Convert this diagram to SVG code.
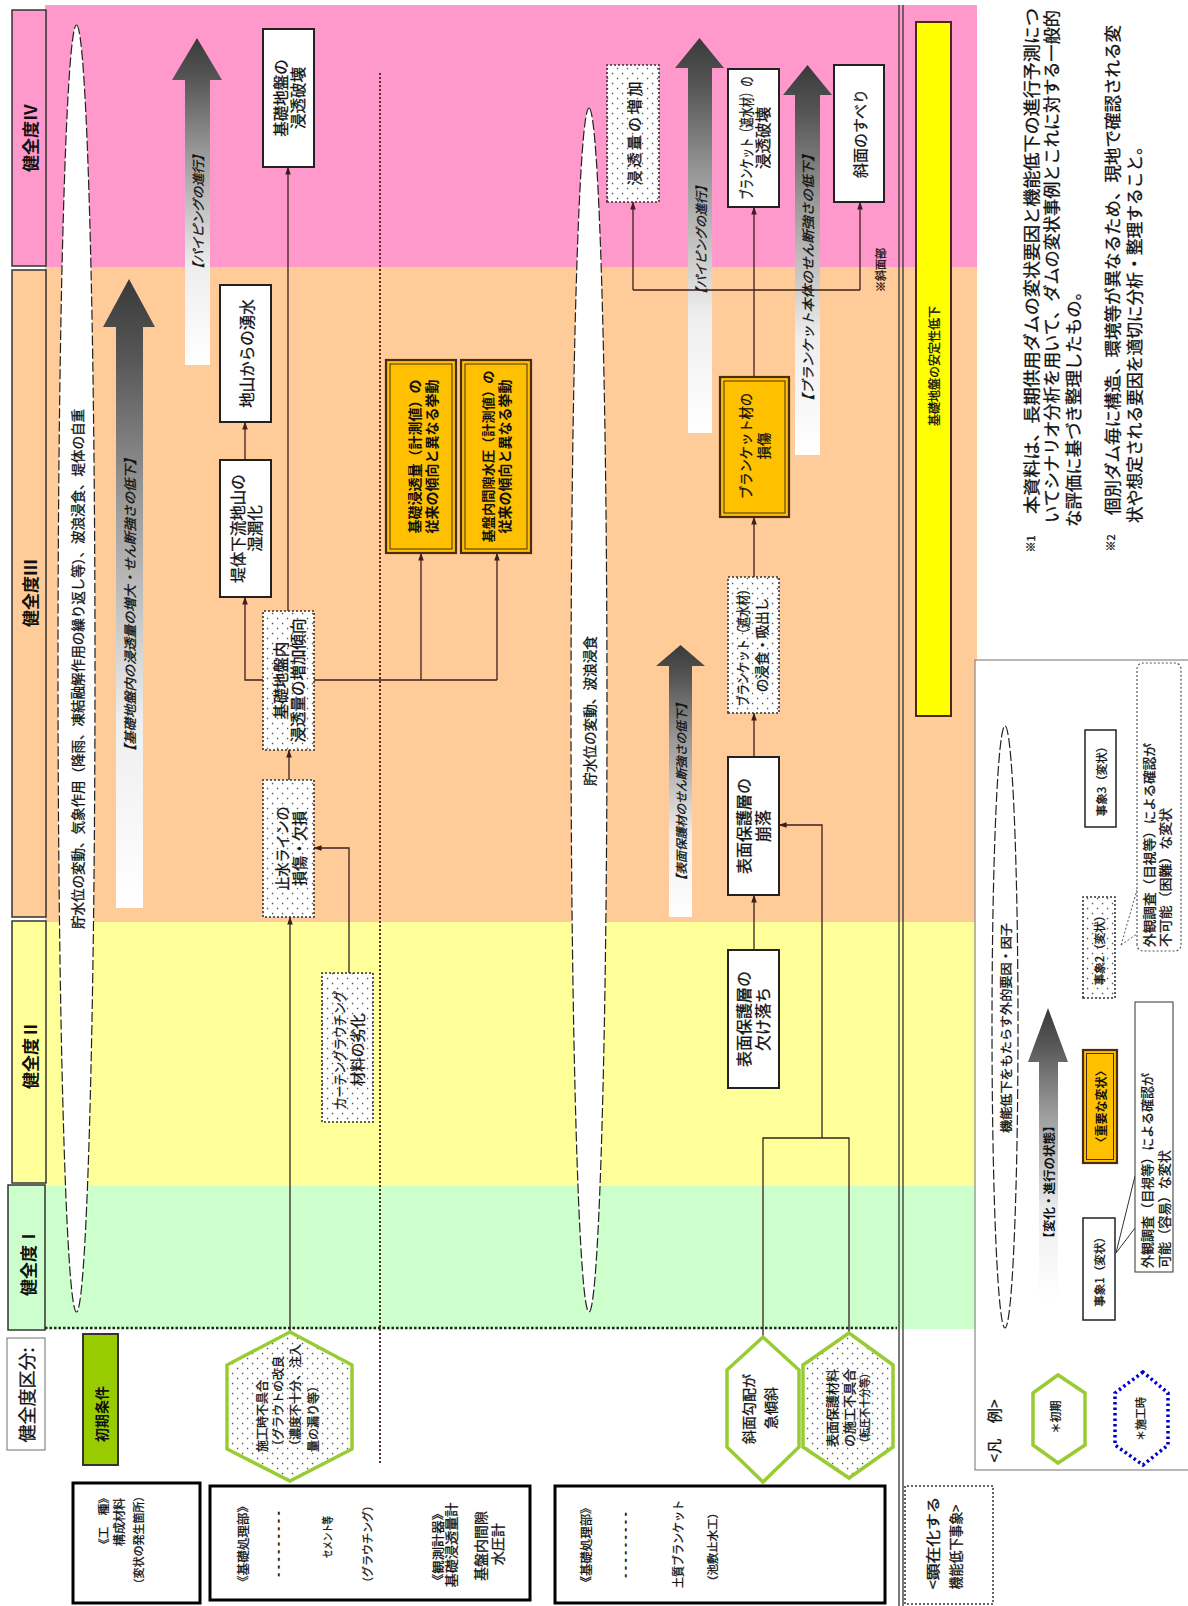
<svg xmlns="http://www.w3.org/2000/svg" width="1188" height="1606" viewBox="0 0 1188 1606">
<defs>
<style>
.t{font-family:"Noto Sans CJK JP","Noto Sans CJK SC",sans-serif;text-anchor:middle;dominant-baseline:central;fill:#111;stroke:#111;stroke-width:0.3}
.ts{text-anchor:start}
.b{font-weight:bold;stroke-width:0}
.i{font-style:italic}
.box{fill:#fff;stroke:#222;stroke-width:2}
.dbox{fill:url(#dots);stroke:#333;stroke-width:1.6;stroke-dasharray:2 2}
.obox{fill:#ffc000;stroke:#4a2c10;stroke-width:2.2}
.oin{fill:none;stroke:#4a2c10;stroke-width:1}
.conn{fill:none;stroke:#3d1f1f;stroke-width:1.3}
.arw{marker-end:url(#ah)}
.ell{fill:#fff;stroke:#222;stroke-width:1.2;stroke-dasharray:10 3}
.hexg{stroke:#99cc33;stroke-width:3.5}
.big{fill:url(#gArr)}
.frame{fill:#fff;stroke:#000;stroke-width:3}
</style>
<pattern id="dots" width="10" height="10" patternUnits="userSpaceOnUse">
<rect width="10" height="10" fill="#fff"/>
<circle cx="2.5" cy="2.5" r="0.85" fill="#555"/>
<circle cx="7.5" cy="7.5" r="0.85" fill="#555"/>
</pattern>
<linearGradient id="gArr" x1="0" y1="0" x2="1" y2="0">
<stop offset="0" stop-color="#ffffff"/>
<stop offset="0.3" stop-color="#eeeeee"/>
<stop offset="0.65" stop-color="#999999"/>
<stop offset="0.88" stop-color="#555555"/>
<stop offset="1" stop-color="#3a3a3a"/>
</linearGradient>
<marker id="ah" viewBox="0 0 10 10" refX="9.5" refY="5" markerUnits="userSpaceOnUse" markerWidth="8" markerHeight="8" orient="auto">
<path d="M0,1.5 L10,5 L0,8.5 Z" fill="#3d1f1f"/>
</marker>
</defs>
<rect width="1188" height="1606" fill="#fff"/>

<!-- the whole sheet is laid out landscape and turned a quarter turn -->
<g transform="translate(0,1606) rotate(-90)">

<!-- condition bands -->
<g id="bands">
<rect x="1339" y="45" width="262" height="932" fill="#ff99cc"/>
<rect x="684" y="45" width="655" height="932" fill="#ffcc99"/>
<rect x="420" y="45" width="264" height="932" fill="#ffff99"/>
<rect x="277" y="45" width="143" height="932" fill="#ccffcc"/>
</g>

<!-- grade labels -->
<g id="grade-4"><rect x="1340" y="12" width="256" height="34" fill="#ff99cc" stroke="#333" stroke-width="1.5"/><text class="t b" x="1468" y="29" font-size="17">健全度Ⅳ</text></g>
<g id="grade-3"><rect x="689" y="12" width="647" height="34" fill="#ffcc99" stroke="#333" stroke-width="1.5"/><text class="t b" x="1013" y="29" font-size="17">健全度Ⅲ</text></g>
<g id="grade-2"><rect x="423" y="12" width="262" height="34" fill="#ffff99" stroke="#333" stroke-width="1.5"/><text class="t b" x="551" y="29" font-size="17">健全度Ⅱ</text></g>
<g id="grade-1"><rect x="276" y="8" width="145" height="37" fill="#ccffcc" stroke="#333" stroke-width="1.5"/><text class="t b" x="344" y="27" font-size="17">健全度Ⅰ</text></g>
<g id="grade-title"><rect x="156" y="7" width="112" height="38" fill="#fff" stroke="#888" stroke-width="1.2"/><text class="t" x="211" y="26" font-size="18">健全度区分:</text></g>
<g id="initial-title"><rect x="141" y="83" width="131" height="35" fill="#99cc00" stroke="#333" stroke-width="2"/><text class="t b" x="192" y="100.5" font-size="14">初期条件</text></g>

<!-- guide lines -->
<g id="guides">
<line x1="278" y1="45" x2="278" y2="897" stroke="#222" stroke-width="2.5" stroke-dasharray="2.5 2"/>
<line x1="143" y1="380" x2="1533" y2="380" stroke="#5a2a2a" stroke-width="2" stroke-dasharray="2 2"/>
<line x1="0" y1="899" x2="1601" y2="899" stroke="#333" stroke-width="1.3"/>
<line x1="0" y1="903" x2="1601" y2="903" stroke="#333" stroke-width="1.3"/>
</g>

<!-- stability bar -->
<g id="stability">
<rect x="890" y="916" width="694" height="35" fill="#ffff00" stroke="#4a2a10" stroke-width="2"/>
<text class="t" x="1240" y="933.5" font-size="12">基礎地盤の安定性低下</text>
</g>

<!-- external factors -->
<g id="factor-1">
<ellipse cx="937.5" cy="76.5" rx="643.5" ry="18.5" class="ell"/>
<text class="t" x="937" y="76.5" font-size="13.5" textLength="520" lengthAdjust="spacingAndGlyphs">貯水位の変動、気象作用（降雨、凍結融解作用の繰り返し等）、波浪浸食、堤体の自重</text>
</g>
<g id="factor-2">
<ellipse cx="896" cy="589" rx="602" ry="18" class="ell"/>
<text class="t" x="895" y="589" font-size="13.5" textLength="150" lengthAdjust="spacingAndGlyphs">貯水位の変動、波浪浸食</text>
</g>

<!-- progression arrows -->
<g id="prog-piping-1">
<path class="big" d="M1241,185 L1526,185 L1526,172 L1568,197 L1526,222 L1526,210 L1241,210 Z"/>
<text class="t i" x="1394" y="197" font-size="12.5" textLength="127" lengthAdjust="spacingAndGlyphs">【パイピングの進行】</text>
</g>
<g id="prog-seepage">
<path class="big" d="M698,116 L1279,116 L1279,103 L1327,129 L1279,155 L1279,143 L698,143 Z"/>
<text class="t i" x="1001" y="129.5" font-size="13" textLength="306" lengthAdjust="spacingAndGlyphs">【基礎地盤内の浸透量の増大・せん断強さの低下】</text>
</g>
<g id="prog-piping-2">
<path class="big" d="M1173,688 L1538,688 L1538,675 L1568,699.5 L1538,724 L1538,712 L1173,712 Z"/>
<text class="t i" x="1366" y="700" font-size="12.5" textLength="120" lengthAdjust="spacingAndGlyphs">【パイピングの進行】</text>
</g>
<g id="prog-blanket">
<path class="big" d="M1151,795 L1511,795 L1511,783 L1541,807.5 L1511,832 L1511,820 L1151,820 Z"/>
<text class="t i" x="1328" y="807.5" font-size="13" textLength="260" lengthAdjust="spacingAndGlyphs">【ブランケット本体のせん断強さの低下】</text>
</g>
<g id="prog-surface">
<path class="big" d="M689,669 L940,669 L940,656 L961,680.5 L940,705 L940,692 L689,692 Z"/>
<text class="t i" x="814" y="680.5" font-size="12" textLength="189" lengthAdjust="spacingAndGlyphs">【表面保護材のせん断強さの低下】</text>
</g>

<!-- connectors -->
<g id="connectors">
<path class="conn arw" d="M995,288 L1439,288"/>
<path class="conn arw" d="M926,263 L926,245 L1009,245"/>
<path class="conn arw" d="M1146,245 L1184,245"/>
<path class="conn" d="M926,314 L926,497"/>
<path class="conn arw" d="M926,421 L1053,421"/>
<path class="conn arw" d="M926,497 L1053,497"/>
<path class="conn arw" d="M826,289 L856,289"/>
<path class="conn arw" d="M274,290 L689,290"/>
<path class="conn arw" d="M633,349 L758,349 L758,314"/>
<path class="conn arw" d="M1229,754 L1399,754"/>
<path class="conn" d="M1316,633 L1316,860"/>
<path class="conn arw" d="M1316,633 L1404,633"/>
<path class="conn arw" d="M1316,860 L1404,860"/>
<path class="conn arw" d="M1029,754 L1089,754"/>
<path class="conn arw" d="M849,754 L893,754"/>
<path class="conn arw" d="M656,754 L711,754"/>
<path class="conn" d="M269,763 L468,763 L468,849 L273,849"/>
<path class="conn arw" d="M468,822 L781,822 L781,779"/>
<path class="conn arw" d="M233,1058 L276,1097"/>
<path class="conn arw" d="M241,1143 L276,1108"/>
<path class="conn arw" d="M388,1100 L443,1100"/>
<path class="conn arw" d="M556,1100 L608,1100"/>
<path class="conn arw" d="M709,1100 L779,1100"/>
</g>

<!-- events, dam foundation side -->
<g id="n-found-failure"><rect class="box" x="1439" y="263" width="138" height="51"/><text class="t" x="1508" y="280" font-size="15.5">基礎地盤の</text><text class="t" x="1508" y="297" font-size="15.5">浸透破壊</text></g>
<g id="n-spring"><rect class="box" x="1184" y="220" width="137" height="51"/><text class="t" x="1252.5" y="245.5" font-size="15.5">地山からの湧水</text></g>
<g id="n-wet"><rect class="box" x="1009" y="220" width="137" height="51"/><text class="t" x="1077.5" y="237" font-size="15.5">堤体下流地山の</text><text class="t" x="1077.5" y="254" font-size="15.5">湿潤化</text></g>
<g id="n-seep-trend"><rect class="dbox" x="856" y="263" width="139" height="51"/><text class="t" x="925.5" y="280" font-size="15.5">基礎地盤内</text><text class="t" x="925.5" y="297" font-size="15.5">浸透量の増加傾向</text></g>
<g id="n-cutoff"><rect class="dbox" x="689" y="263" width="137" height="51"/><text class="t" x="757.5" y="281" font-size="15" textLength="84" lengthAdjust="spacingAndGlyphs">止水ラインの</text><text class="t" x="757.5" y="298" font-size="15">損傷・欠損</text></g>
<g id="n-curtain"><rect class="dbox" x="484" y="322" width="149" height="51"/><text class="t" x="556" y="339" font-size="13.5" textLength="119" lengthAdjust="spacingAndGlyphs">カーテングラウチング</text><text class="t" x="556" y="356" font-size="14.5">材料の劣化</text></g>
<g id="n-seep-meas"><rect class="obox" x="1053" y="386" width="193" height="70"/><rect class="oin" x="1057" y="390" width="185" height="62"/><text class="t b" x="1149.5" y="414" font-size="14">基礎浸透量（計測値）の</text><text class="t b" x="1149.5" y="431" font-size="14">従来の傾向と異なる挙動</text></g>
<g id="n-pore-meas"><rect class="obox" x="1053" y="461" width="193" height="70"/><rect class="oin" x="1057" y="465" width="185" height="62"/><text class="t b" x="1149.5" y="487" font-size="13" textLength="172" lengthAdjust="spacingAndGlyphs">基盤内間隙水圧（計測値）の</text><text class="t b" x="1149.5" y="504" font-size="14">従来の傾向と異なる挙動</text></g>

<!-- events, blanket side -->
<g id="n-seep-inc"><rect class="dbox" x="1404" y="607" width="137" height="52"/><text class="t" x="1472.5" y="633" font-size="15" textLength="104" lengthAdjust="spacing">浸透量の増加</text></g>
<g id="n-blanket-failure"><rect class="box" x="1399" y="728" width="138" height="51"/><text class="t" x="1468" y="745" font-size="14.5" textLength="123" lengthAdjust="spacingAndGlyphs">ブランケット（遮水材）の</text><text class="t" x="1468" y="762" font-size="15.5">浸透破壊</text></g>
<g id="n-slide"><rect class="box" x="1404" y="834" width="137" height="50"/><text class="t" x="1472.5" y="859" font-size="15">斜面のすべり</text></g>
<text class="t" x="1336" y="880" font-size="11">※斜面部</text>
<g id="n-blanket-damage"><rect class="obox" x="1089" y="720" width="140" height="69"/><rect class="oin" x="1093" y="724" width="132" height="61"/><text class="t" x="1160" y="745" font-size="13.5" textLength="106" lengthAdjust="spacingAndGlyphs">ブランケット材の</text><text class="t" x="1160" y="763" font-size="13.5">損傷</text></g>
<g id="n-erosion"><rect class="dbox" x="893" y="728" width="136" height="51"/><text class="t" x="961" y="742" font-size="13.5" textLength="123" lengthAdjust="spacingAndGlyphs">ブランケット（遮水材）</text><text class="t" x="961" y="761" font-size="13.5">の浸食・吸出し</text></g>
<g id="n-collapse"><rect class="box" x="711" y="728" width="138" height="51"/><text class="t" x="780" y="743" font-size="16">表面保護層の</text><text class="t" x="780" y="762" font-size="16">崩落</text></g>
<g id="n-chip"><rect class="box" x="518" y="728" width="138" height="51"/><text class="t" x="587" y="743" font-size="16">表面保護層の</text><text class="t" x="587" y="762" font-size="16">欠け落ち</text></g>

<!-- initial conditions -->
<g id="h-grout">
<polygon class="hexg" fill="url(#dots)" points="274,290 241,227 157,227 125,290 157,352 241,352"/>
<text class="t ts" x="154" y="261" font-size="12">施工時不具合</text>
<text class="t ts" x="154" y="277" font-size="12">（グラウトの改良</text>
<text class="t ts" x="154" y="294" font-size="12">（濃度不十分、注入</text>
<text class="t ts" x="154" y="312" font-size="12">量の漏り等）</text>
</g>
<g id="h-slope">
<polygon class="hexg" fill="#fff" points="269,763 236,727 159,727 124,763 159,799 236,799"/>
<text class="t" x="197" y="748" font-size="14">斜面勾配が</text>
<text class="t" x="198" y="770" font-size="14">急傾斜</text>
</g>
<g id="h-surface">
<polygon class="hexg" fill="url(#dots)" points="273,849 241,803 159,803 128,849 159,893 241,893"/>
<text class="t" x="198" y="831" font-size="13">表面保護材料</text>
<text class="t" x="198" y="848" font-size="13">の施工不具合</text>
<text class="t" x="198" y="864" font-size="11" textLength="80" lengthAdjust="spacingAndGlyphs">（転圧不十分等）</text>
</g>

<!-- work type frames -->
<g id="f-kind"><rect class="frame" x="3" y="73" width="120" height="127"/>
<text class="t" x="85" y="103" font-size="11.5">《工　種》</text>
<text class="t" x="84" y="118" font-size="12">構成材料</text>
<text class="t" x="66" y="138" font-size="11">（変状の発生箇所）</text></g>
<g id="f-found"><rect class="frame" x="6" y="210" width="114" height="320"/>
<text class="t" x="62" y="242" font-size="12" textLength="88" lengthAdjust="spacingAndGlyphs">《基礎処理部》</text>
<text class="t" x="62" y="278" font-size="12" textLength="69" lengthAdjust="spacingAndGlyphs">………</text>
<text class="t" x="69" y="327" font-size="11" textLength="42" lengthAdjust="spacingAndGlyphs">セメント等</text>
<text class="t" x="62" y="367" font-size="11" textLength="88" lengthAdjust="spacingAndGlyphs">（グラウチング）</text>
<text class="t" x="59" y="437" font-size="12" textLength="80" lengthAdjust="spacingAndGlyphs">《観測計器》</text>
<text class="t" x="61" y="450" font-size="13" textLength="85" lengthAdjust="spacingAndGlyphs">基礎浸透量計</text>
<text class="t" x="60" y="480" font-size="14">基盤内間隙</text>
<text class="t" x="62" y="497" font-size="14">水圧計</text></g>
<g id="f-blanket"><rect class="frame" x="3" y="555" width="117" height="330"/>
<text class="t" x="61" y="585" font-size="12" textLength="87" lengthAdjust="spacingAndGlyphs">《基礎処理部》</text>
<text class="t" x="61" y="625" font-size="12" textLength="69" lengthAdjust="spacingAndGlyphs">………</text>
<text class="t" x="62" y="677" font-size="12" textLength="88" lengthAdjust="spacingAndGlyphs">土質ブランケット</text>
<text class="t" x="59" y="712" font-size="11" textLength="80" lengthAdjust="spacingAndGlyphs">（池敷止水工）</text></g>
<g id="f-event"><rect x="2" y="905" width="118" height="88" fill="#fff" stroke="#333" stroke-width="1.5" stroke-dasharray="2 2"/>
<text class="t" x="63" y="932" font-size="14" textLength="93" lengthAdjust="spacingAndGlyphs">&lt;顕在化する</text>
<text class="t" x="59" y="955" font-size="14" textLength="85" lengthAdjust="spacingAndGlyphs">機能低下事象&gt;</text></g>

<!-- legend -->
<g id="legend">
<rect x="136" y="975" width="810" height="230" fill="#fff" stroke="#888" stroke-width="1.2"/>
<text class="t" x="175" y="993" font-size="15" textLength="63" lengthAdjust="spacing">&lt;凡　例&gt;</text>
<ellipse cx="579" cy="1005" rx="301" ry="13" class="ell"/>
<text class="t" x="578" y="1005" font-size="12.5" textLength="210" lengthAdjust="spacingAndGlyphs">機能低下をもたらす外的要因・因子</text>
<path class="big" d="M306,1039 L544,1039 L544,1028 L598,1048 L544,1068 L544,1058 L306,1058 Z"/>
<text class="t b" x="424" y="1048.5" font-size="12" textLength="125" lengthAdjust="spacingAndGlyphs">【変化・進行の状態】</text>
<g id="lg-initial"><polygon class="hexg" fill="#fff" points="231,1058 213,1033 161,1033 143,1058 161,1085 213,1085"/><text class="t" x="189" y="1055" font-size="11">＊初期</text></g>
<g id="lg-construct"><polygon fill="#fff" stroke="#0000cc" stroke-width="3.5" stroke-dasharray="2.5 3" points="234,1143 213,1115 161,1115 141,1143 161,1168 213,1168"/><text class="t" x="187" y="1140" font-size="11">＊施工時</text></g>
<g id="lg-ev1"><rect x="286" y="1083" width="102" height="32" fill="#fff" stroke="#222" stroke-width="1.5"/><text class="t" x="337" y="1099" font-size="11.5">事象1（変状）</text></g>
<g id="lg-major"><rect class="obox" x="443" y="1083" width="113" height="34"/><rect class="oin" x="446.5" y="1086.5" width="106" height="27"/><text class="t b" x="499.5" y="1100" font-size="12">〈重要な変状〉</text></g>
<g id="lg-ev2"><rect class="dbox" x="608" y="1083" width="101" height="32"/><text class="t" x="658.5" y="1099" font-size="11.5">事象2（変状）</text></g>
<g id="lg-ev3"><rect x="779" y="1085" width="97" height="31" fill="#fff" stroke="#222" stroke-width="1.5"/><text class="t" x="827.5" y="1100.5" font-size="11.5">事象3（変状）</text></g>
<g id="lg-visible">
<line x1="353" y1="1116" x2="378" y2="1135" stroke="#333" stroke-width="1"/>
<line x1="353" y1="1116" x2="430" y2="1135" stroke="#333" stroke-width="1"/>
<rect x="334" y="1135" width="270" height="38" fill="#fff" stroke="#333" stroke-width="1"/>
<text class="t ts" x="338" y="1146" font-size="13" textLength="195" lengthAdjust="spacingAndGlyphs">外観調査（目視等）による確認が</text>
<text class="t ts" x="338" y="1163" font-size="13" textLength="118" lengthAdjust="spacingAndGlyphs">可能（容易）な変状</text>
</g>
<g id="lg-hidden">
<line x1="661" y1="1121" x2="672" y2="1137" stroke="#555" stroke-width="1" stroke-dasharray="2 2"/>
<line x1="661" y1="1121" x2="716" y2="1137" stroke="#555" stroke-width="1" stroke-dasharray="2 2"/>
<rect x="655" y="1137" width="288" height="44" rx="6" fill="#fff" stroke="#555" stroke-width="1.2" stroke-dasharray="2 2"/>
<text class="t ts" x="659" y="1148" font-size="13" textLength="204" lengthAdjust="spacingAndGlyphs">外観調査（目視等）による確認が</text>
<text class="t ts" x="659" y="1164" font-size="13" textLength="139" lengthAdjust="spacingAndGlyphs">不可能（困難）な変状</text>
</g>
</g>

<!-- notes -->
<g id="notes">
<text class="t" x="1062" y="1030" font-size="11">※1</text>
<text class="t ts" x="1092" y="1030" font-size="17" textLength="506" lengthAdjust="spacingAndGlyphs">本資料は、長期供用ダムの変状要因と機能低下の進行予測につ</text>
<text class="t ts" x="1083" y="1050" font-size="17" textLength="513" lengthAdjust="spacingAndGlyphs">いてシナリオ分析を用いて、ダムの変状事例とこれに対する一般的</text>
<text class="t ts" x="1079" y="1072" font-size="17" textLength="244" lengthAdjust="spacingAndGlyphs">な評価に基づき整理したもの。</text>
<text class="t" x="1063" y="1110" font-size="11">※2</text>
<text class="t ts" x="1091" y="1111" font-size="17" textLength="490" lengthAdjust="spacingAndGlyphs">個別ダム毎に構造、環境等が異なるため、現地で確認される変</text>
<text class="t ts" x="1083" y="1133" font-size="17" textLength="385" lengthAdjust="spacingAndGlyphs">状や想定される要因を適切に分析・整理すること。</text>
</g>

</g>
</svg>
